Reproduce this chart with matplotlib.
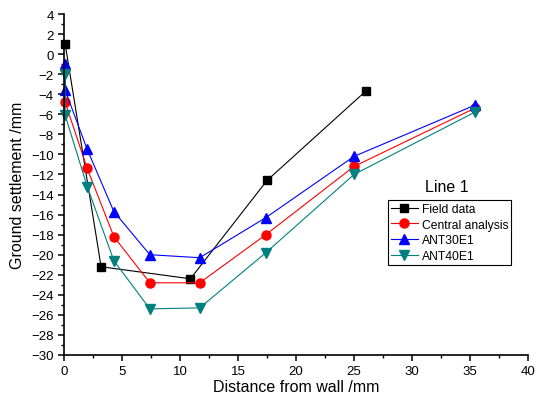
import numpy as np
import matplotlib
matplotlib.use('Agg')
from matplotlib import pyplot as plt
from matplotlib.ticker import MultipleLocator

plt.rcParams['font.family'] = ['Liberation Sans', 'DejaVu Sans']

# distance from wall (mm)
field_x = [0.1, 3.2, 10.9, 17.5, 26.0]
field_y = [1.0, -21.2, -22.4, -12.6, -3.7]

model_x = [0.1, 0.1, 2.0, 4.3, 7.4, 11.7, 17.4, 25.0, 35.4]
central_y = [-1.5, -4.8, -11.4, -18.2, -22.8, -22.8, -18.0, -11.2, -5.4]
ant30_y = [-1.0, -3.6, -9.5, -15.7, -20.0, -20.3, -16.3, -10.2, -5.1]
ant40_y = [-2.0, -6.1, -13.2, -20.6, -25.4, -25.3, -19.8, -12.0, -5.8]

fig = plt.figure(figsize=(5.36, 4.06), dpi=100)
ax = fig.add_axes([64 / 536, 1 - 356 / 406, (528 - 64) / 536, (356 - 15) / 406])

lw = 0.8
ax.plot(field_x, field_y, color='black', lw=lw, marker='s', ms=5.5, label='Field data', clip_on=False)
ax.plot(model_x, central_y, color='red', lw=lw, marker='o', ms=6.5, label='Central analysis', clip_on=False)
ax.plot(model_x, ant30_y, color='blue', lw=lw, marker='^', ms=7, label='ANT30E1', clip_on=False)
ax.plot(model_x, ant40_y, color='#008080', lw=lw, marker='v', ms=7, label='ANT40E1', clip_on=False)

ax.set_xlim(0, 40)
ax.set_ylim(-30, 4)
ax.xaxis.set_major_locator(MultipleLocator(5))
ax.xaxis.set_minor_locator(MultipleLocator(2.5))
ax.yaxis.set_major_locator(MultipleLocator(2))
ax.yaxis.set_minor_locator(MultipleLocator(1))

for s in ['top', 'right']:
    ax.spines[s].set_visible(False)
for s in ['left', 'bottom']:
    ax.spines[s].set_linewidth(1.2)
ax.tick_params(which='major', direction='out', length=4, width=1.1, labelsize=9.5)
ax.tick_params(which='minor', direction='out', length=2.5, width=1.0)

ax.set_xlabel('Distance from wall /mm', fontsize=11.5, labelpad=1)
ax.set_ylabel('Ground settlement /mm', fontsize=11.5, labelpad=4)

# legend box sits below a separate "Line 1" title
leg = ax.legend(loc='upper left', bbox_to_anchor=(388 / 536, 1 - 201 / 406),
                bbox_transform=fig.transFigure, borderaxespad=0, fontsize=8.7,
                frameon=True, fancybox=False, edgecolor='black', framealpha=1,
                handlelength=2.2, handletextpad=0.35, borderpad=0.25, labelspacing=0.3)
leg.get_frame().set_linewidth(0.8)
fig.text(447 / 536, 1 - 188 / 406, 'Line 1', ha='center', va='center', fontsize=11.5)

fig.savefig('out.png', dpi=100)
